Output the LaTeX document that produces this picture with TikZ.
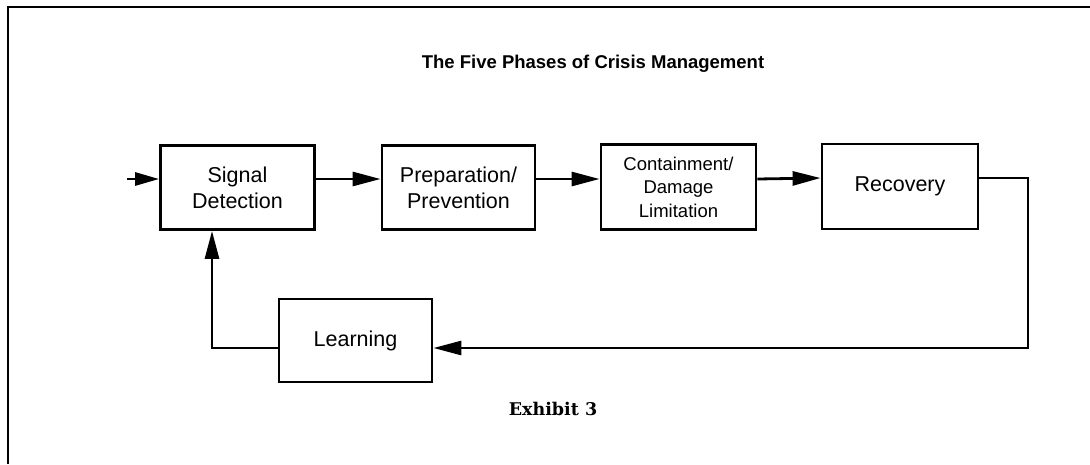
\documentclass[tikz,border=0pt]{standalone}
\usepackage{fontspec}
\setmainfont{Liberation Sans}
\newfontfamily\exfont{DejaVu Serif}
\usetikzlibrary{arrows.meta}
\begin{document}
\begin{tikzpicture}[x=1pt,y=-1pt,
  phase/.style={draw,line width=2.8pt,inner sep=0pt,align=center,font=\fontsize{21.5}{26}\selectfont},
  conn/.style={line width=2.8pt,line join=miter},
  arr/.style={conn,-{Triangle[length=28pt,width=14pt]}}]
\useasboundingbox (0,0) rectangle (1090,464);
% frame
\draw[line width=2.6pt] (1090,7) -- (8,7) -- (8,464);
% title
\node[font=\bfseries\fontsize{18.5}{22}\selectfont] (title) at (593,64) {The Five Phases of Crisis Management};
% boxes
\node[phase,minimum width=154pt,minimum height=84pt] (sd) at (237.5,187.5) {Signal\\Detection};
\node[phase,minimum width=153pt,minimum height=84pt] (pp) at (458.5,187.5) {Preparation/\\Prevention};
\node[phase,minimum width=155pt,minimum height=85pt,font=\fontsize{18.5}{23.5}\selectfont] (cd) at (678.5,187) {Containment/\\Damage\\Limitation};
\node[phase,minimum width=156pt,minimum height=85pt] (rc) at (900,186.5) {Recovery};
\node[phase,minimum width=153pt,minimum height=83pt] (ln) at (355.5,340.5) {Learning};
\node[font=\exfont\bfseries\fontsize{17.5}{21}\selectfont] (ex) at (553,409) {Exhibit 3};
% connectors
\coordinate (in) at (127,179);
\coordinate (c1) at (1028,348);
\coordinate (c2) at (212,348);
\draw[conn,-{Triangle[length=24pt,width=13pt]}] (in) -- ([yshift=8.5pt]sd.west);
\draw[arr] ([yshift=8.5pt]sd.east) -- ([yshift=8.5pt]pp.west);
\draw[arr] ([yshift=8.5pt]pp.east) -- ([yshift=8pt]cd.west);
\draw[arr] ([yshift=8pt]cd.east) -- ([yshift=8.5pt]rc.west);
\draw[arr] ([yshift=8.5pt]rc.east) -| (c1) -- ([yshift=-7.5pt]ln.east);
\draw[arr] ([yshift=-7.5pt]ln.west) -- (c2) -- (c2 |- sd.south);
\end{tikzpicture}
\end{document}
